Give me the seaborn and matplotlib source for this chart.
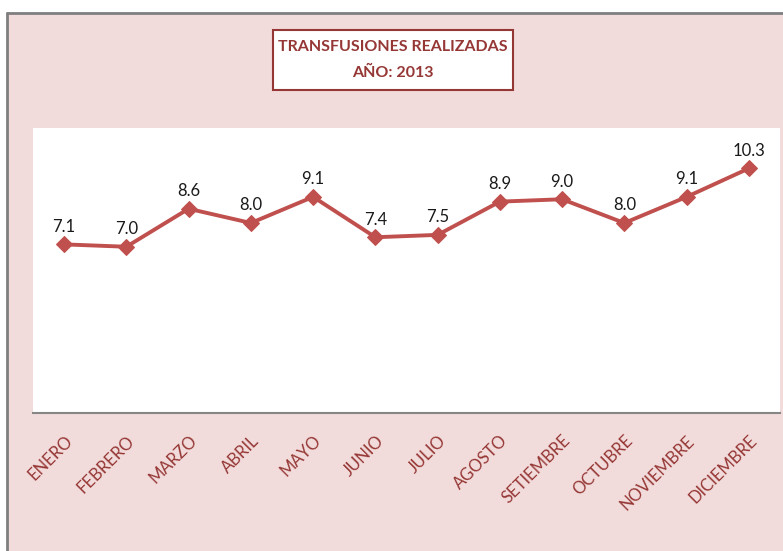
import pandas as pd
import matplotlib.pyplot as plt
import seaborn as sns
from matplotlib.patches import Rectangle
from matplotlib.lines import Line2D

# datos
meses = ['ENERO', 'FEBRERO', 'MARZO', 'ABRIL', 'MAYO', 'JUNIO', 'JULIO',
         'AGOSTO', 'SETIEMBRE', 'OCTUBRE', 'NOVIEMBRE', 'DICIEMBRE']
valores = [7.1, 7.0, 8.6, 8.0, 9.1, 7.4, 7.5, 8.9, 9.0, 8.0, 9.1, 10.3]

df = pd.DataFrame({'mes': meses, 'valor': valores})

rojo = '#c0504d'
rojo_osc = '#953735'
rosa = '#f2dcdb'

sns.set_style('white')
plt.rcParams['font.family'] = ['Lato', 'DejaVu Sans']

W, H = 783, 551
fig = plt.figure(figsize=(W / 100, H / 100), dpi=100, facecolor='white')

# fondo rosado con borde gris arriba y a la izquierda
fig.patches.append(Rectangle((7 / W, 0), 1 - 7 / W, (H - 13) / H,
                             transform=fig.transFigure, facecolor=rosa,
                             edgecolor='none', zorder=-10))
fig.lines.append(Line2D([7 / W, 1], [(H - 13) / H] * 2, transform=fig.transFigure,
                        color='#7f7f7f', lw=2, zorder=-9))
fig.lines.append(Line2D([7 / W] * 2, [0, (H - 13) / H], transform=fig.transFigure,
                        color='#7f7f7f', lw=2, zorder=-9))

ax = fig.add_axes([33 / W, 1 - 413 / H, (780 - 33) / W, (413 - 128) / H])
ax.set_facecolor('white')

sns.lineplot(data=df, x='mes', y='valor', ax=ax, color=rojo, lw=2.8,
             marker='D', markersize=8, markeredgecolor=rojo, sort=False)

ax.set_xlim(-0.5, len(meses) - 0.5)
ax.set_ylim(0, 12)
ax.set_yticks([])
ax.set_xlabel('')
ax.set_ylabel('')
for s in ['top', 'right', 'left']:
    ax.spines[s].set_visible(False)
ax.spines['bottom'].set_color('#868686')
ax.spines['bottom'].set_linewidth(1.5)

ax.tick_params(axis='x', length=0, pad=14)
ax.set_xticks(range(len(meses)))
ax.set_xticklabels(meses, rotation=45, ha='right', rotation_mode='anchor',
                   color=rojo_osc, fontsize=12)

# etiquetas de datos
for i, v in enumerate(valores):
    ax.annotate('%.1f' % v, (i, v), xytext=(0, 7), textcoords='offset points',
                ha='center', va='bottom', fontsize=12, color='#1a1a1a')

# titulo en recuadro
fig.patches.append(Rectangle((273 / W, 1 - 90 / H), 240 / W, 60 / H,
                             transform=fig.transFigure, facecolor='white',
                             edgecolor=rojo_osc, linewidth=1.5, zorder=1))
fig.text(393 / W, 1 - 47 / H, 'TRANSFUSIONES REALIZADAS', ha='center', va='center',
         fontsize=11.5, fontweight='bold', color=rojo_osc, zorder=2)
fig.text(393 / W, 1 - 73 / H, 'AÑO: 2013', ha='center', va='center',
         fontsize=11.5, fontweight='bold', color=rojo_osc, zorder=2)

plt.savefig('out.png', dpi=100, facecolor=fig.get_facecolor())
